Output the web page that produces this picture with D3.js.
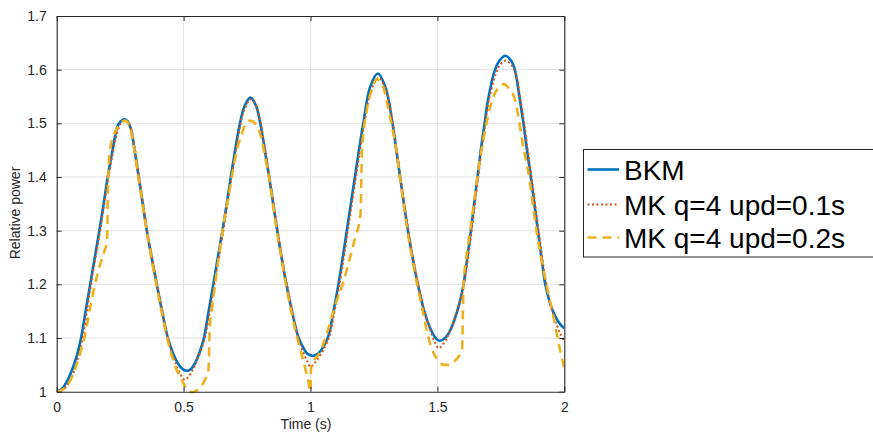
<!DOCTYPE html>
<html><head><meta charset="utf-8">
<script src="https://cdn.jsdelivr.net/npm/d3@7"></script>
<style>body{margin:0;background:#fff}svg{display:block;font-family:"Liberation Sans",Arial,sans-serif}</style>
</head><body><svg id="c" width="873" height="432"></svg>
<script>
const xTicks=[0,0.5,1,1.5,2];
const xTickLabels=["0","0.5","1","1.5","2"];
const yTicks=[1,1.1,1.2,1.3,1.4,1.5,1.6,1.7];
const yTickLabels=["1","1.1","1.2","1.3","1.4","1.5","1.6","1.7"];
const seriesNames=["BKM","MK q=4 upd=0.1s","MK q=4 upd=0.2s"];

const bkmT=[0,0.02,0.04,0.06,0.08,0.096,0.114,0.132,0.15,0.168,0.185,0.201,0.22,0.24,0.253,0.266,0.279,0.292,0.307,0.323,0.339,0.355,0.374,0.394,0.415,0.438,0.46,0.48,0.496,0.512,0.528,0.545,0.562,0.58,0.598,0.617,0.635,0.653,0.67,0.686,0.703,0.722,0.74,0.763,0.786,0.802,0.82,0.837,0.853,0.869,0.886,0.905,0.927,0.95,0.97,0.99,1.011,1.03,1.05,1.07,1.09,1.11,1.127,1.143,1.159,1.175,1.191,1.208,1.235,1.265,1.295,1.323,1.338,1.353,1.368,1.384,1.402,1.423,1.448,1.47,1.49,1.508,1.528,1.548,1.568,1.587,1.603,1.618,1.632,1.645,1.658,1.671,1.686,1.70,1.727,1.745,1.767,1.79,1.805,1.823,1.839,1.853,1.868,1.882,1.896,1.91,1.925,1.945,1.965,1.985,2.0];
const bkmV=[1.0,1.005,1.019,1.040,1.068,1.10,1.15,1.20,1.25,1.30,1.35,1.40,1.45,1.495,1.504,1.508,1.504,1.49,1.45,1.40,1.35,1.30,1.25,1.20,1.15,1.10,1.07,1.051,1.042,1.039,1.042,1.053,1.072,1.10,1.148,1.20,1.25,1.30,1.35,1.40,1.45,1.50,1.532,1.548,1.532,1.50,1.45,1.40,1.35,1.30,1.25,1.20,1.15,1.105,1.083,1.07,1.067,1.071,1.083,1.103,1.148,1.20,1.25,1.30,1.35,1.40,1.45,1.50,1.568,1.593,1.568,1.50,1.45,1.40,1.35,1.30,1.25,1.20,1.15,1.12,1.102,1.095,1.099,1.112,1.135,1.165,1.20,1.25,1.30,1.35,1.40,1.45,1.50,1.545,1.60,1.617,1.626,1.617,1.60,1.55,1.50,1.45,1.40,1.35,1.30,1.25,1.20,1.163,1.14,1.125,1.118];

const mk1T=[0,0.02,0.04,0.06,0.08,0.10,0.135,0.171,0.204,0.243,0.256,0.268,0.281,0.294,0.309,0.325,0.341,0.357,0.376,0.396,0.417,0.438,0.46,0.478,0.493,0.505,0.518,0.535,0.555,0.583,0.602,0.621,0.639,0.657,0.673,0.689,0.706,0.725,0.743,0.766,0.788,0.804,0.822,0.839,0.855,0.871,0.888,0.907,0.929,0.952,0.972,0.988,1.0,1.012,1.03,1.05,1.074,1.094,1.114,1.131,1.147,1.163,1.179,1.195,1.212,1.239,1.268,1.297,1.325,1.34,1.355,1.37,1.386,1.404,1.425,1.45,1.472,1.49,1.505,1.52,1.537,1.556,1.575,1.59,1.606,1.621,1.635,1.648,1.661,1.674,1.689,1.703,1.73,1.748,1.77,1.793,1.81,1.827,1.842,1.856,1.871,1.885,1.899,1.913,1.929,1.95,1.97,1.985,2.0];
const mk1V=[1.0,1.002,1.011,1.028,1.056,1.095,1.20,1.30,1.40,1.49,1.502,1.506,1.502,1.488,1.45,1.40,1.35,1.30,1.25,1.20,1.15,1.10,1.064,1.042,1.028,1.022,1.027,1.04,1.06,1.10,1.145,1.20,1.25,1.30,1.35,1.40,1.45,1.50,1.53,1.545,1.53,1.50,1.45,1.40,1.35,1.30,1.25,1.20,1.15,1.10,1.073,1.056,1.046,1.051,1.062,1.077,1.103,1.148,1.20,1.25,1.30,1.35,1.40,1.45,1.50,1.562,1.585,1.562,1.50,1.45,1.40,1.35,1.30,1.25,1.20,1.148,1.115,1.092,1.081,1.087,1.10,1.12,1.148,1.17,1.205,1.25,1.30,1.35,1.40,1.45,1.50,1.543,1.592,1.61,1.617,1.608,1.59,1.545,1.50,1.45,1.40,1.35,1.30,1.25,1.20,1.155,1.125,1.107,1.093];

const mk2T=[0,0.02,0.04,0.06,0.08,0.095,0.109,0.13,0.15,0.17,0.188,0.198,0.203,0.21,0.228,0.248,0.268,0.285,0.30,0.32,0.338,0.354,0.373,0.392,0.413,0.435,0.455,0.475,0.49,0.50,0.51,0.52,0.535,0.55,0.57,0.588,0.598,0.603,0.612,0.624,0.641,0.66,0.683,0.703,0.729,0.749,0.762,0.785,0.805,0.82,0.836,0.852,0.867,0.885,0.903,0.924,0.945,0.962,0.98,0.992,0.999,1.003,1.015,1.035,1.055,1.075,1.10,1.127,1.15,1.175,1.197,1.203,1.222,1.241,1.262,1.285,1.305,1.323,1.338,1.352,1.367,1.382,1.40,1.42,1.44,1.46,1.478,1.50,1.525,1.545,1.565,1.583,1.597,1.603,1.614,1.629,1.645,1.662,1.681,1.701,1.721,1.741,1.761,1.785,1.805,1.82,1.835,1.859,1.892,1.931,1.957,1.983,2.0];
const mk2V=[1.0,1.003,1.011,1.027,1.052,1.075,1.10,1.152,1.198,1.235,1.262,1.28,1.40,1.45,1.482,1.498,1.505,1.498,1.468,1.405,1.35,1.30,1.25,1.20,1.15,1.10,1.065,1.038,1.024,1.015,1.007,1.002,0.999,1.002,1.011,1.026,1.04,1.12,1.155,1.20,1.26,1.32,1.38,1.435,1.48,1.502,1.505,1.498,1.475,1.44,1.40,1.35,1.30,1.25,1.20,1.15,1.105,1.075,1.042,1.018,1.0,1.052,1.06,1.072,1.095,1.125,1.165,1.20,1.24,1.285,1.33,1.45,1.525,1.562,1.582,1.57,1.53,1.49,1.45,1.40,1.35,1.30,1.25,1.20,1.155,1.11,1.08,1.06,1.05,1.05,1.056,1.065,1.078,1.20,1.25,1.30,1.355,1.415,1.47,1.517,1.55,1.567,1.573,1.563,1.545,1.51,1.465,1.407,1.295,1.196,1.14,1.078,1.044];

const colors=["#0072BD","#D95319","#EDB120"];

const svg=d3.select("#c");
const L=56.7,R=564.3,T=16,B=391.7;
const x=d3.scaleLinear().domain([0,2]).range([L,R]);
const y=d3.scaleLinear().domain([1,1.7]).range([B,T]);

const g=svg.append("g");
g.selectAll(".gx").data(xTicks.slice(1,-1)).enter().append("line")
 .attr("x1",d=>x(d)).attr("x2",d=>x(d)).attr("y1",T).attr("y2",B)
 .attr("stroke","#e3e3e3").attr("stroke-width",1);
g.selectAll(".gy").data(yTicks.slice(1,-1)).enter().append("line")
 .attr("x1",L).attr("x2",R).attr("y1",d=>y(d)).attr("y2",d=>y(d))
 .attr("stroke","#e3e3e3").attr("stroke-width",1);

svg.append("clipPath").attr("id","clip").append("rect").attr("x",L).attr("y",T-2).attr("width",R-L).attr("height",B-T+4);

const smooth=d3.line().x(d=>x(d[0])).y(d=>y(d[1])).curve(d3.curveCatmullRom.alpha(0.5));
const mono=d3.line().x(d=>x(d[0])).y(d=>y(d[1])).curve(d3.curveMonotoneX);
const plot=svg.append("g").attr("clip-path","url(#clip)");
const zip=(a,b)=>a.map((t,i)=>[t,b[i]]);
plot.append("path").datum(zip(bkmT,bkmV)).attr("d",smooth).attr("fill","none").attr("stroke",colors[0]).attr("stroke-width",2.6);
plot.append("path").datum(zip(mk1T,mk1V)).attr("d",smooth).attr("fill","none").attr("stroke",colors[1]).attr("stroke-width",2).attr("stroke-dasharray","2,2.5");
plot.append("path").datum(zip(mk2T,mk2V)).attr("d",mono).attr("fill","none").attr("stroke",colors[2]).attr("stroke-width",2.6).attr("stroke-dasharray","9,6");

const ax=svg.append("g").attr("transform",`translate(0,${B})`).call(d3.axisBottom(x).tickValues(xTicks).tickFormat((d,i)=>xTickLabels[i]).tickSizeInner(-5).tickSizeOuter(0).tickPadding(10));
const ay=svg.append("g").attr("transform",`translate(${L},0)`).call(d3.axisLeft(y).tickValues(yTicks).tickFormat((d,i)=>yTickLabels[i]).tickSizeInner(-5).tickSizeOuter(0).tickPadding(10));
const axT=svg.append("g").attr("transform",`translate(0,${T})`).call(d3.axisTop(x).tickValues(xTicks).tickFormat("").tickSizeInner(-5).tickSizeOuter(0));
const ayR=svg.append("g").attr("transform",`translate(${R},0)`).call(d3.axisRight(y).tickValues(yTicks).tickFormat("").tickSizeInner(-5).tickSizeOuter(0));
[ax,ay,axT,ayR].forEach(a=>{
  a.select(".domain").attr("stroke","#262626").attr("stroke-width",1.1);
  a.selectAll(".tick line").attr("stroke","#262626");
  a.selectAll(".tick text").attr("fill","#262626").style("font-size","14px").style("font-family","'Liberation Sans',Arial,sans-serif");
});

svg.append("text").attr("x",306).attr("y",429).attr("text-anchor","middle").attr("fill","#262626").style("font-size","14px").text("Time (s)");
svg.append("text").attr("transform","translate(20,213) rotate(-90)").attr("text-anchor","middle").attr("fill","#262626").style("font-size","14px").text("Relative power");

const lg=svg.append("g");
lg.append("rect").attr("x",583.5).attr("y",149.5).attr("width",300).attr("height",107.5).attr("fill","#fff").attr("stroke","#262626").attr("stroke-width",1);
const rows=[169.5,204.5,237.5];
const dashes=[null,"2,2.5","9,6"];
const widths=[2.6,2,2.6];
seriesNames.forEach((n,i)=>{
  const ln=lg.append("line").attr("x1",587.5).attr("x2",619).attr("y1",rows[i]).attr("y2",rows[i]).attr("stroke",colors[i]).attr("stroke-width",widths[i]);
  if(dashes[i]) ln.attr("stroke-dasharray",dashes[i]);
  lg.append("text").attr("x",624).attr("y",rows[i]).attr("dy","0.36em").attr("fill","#000").style("font-size","28px").text(n);
});
</script></body></html>
